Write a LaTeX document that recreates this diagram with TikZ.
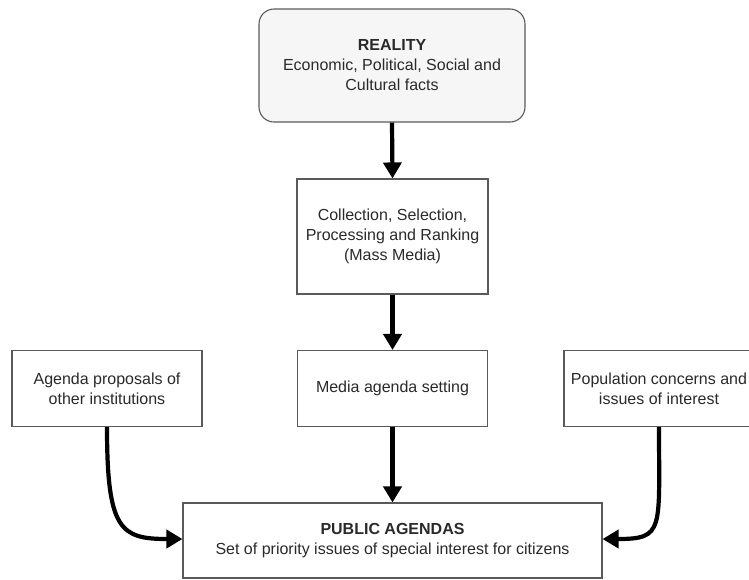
\documentclass[tikz,border=0pt]{standalone}
\usepackage{fontspec}
\setmainfont{Liberation Sans}
\usetikzlibrary{arrows.meta}
\definecolor{boxline}{HTML}{5A5A5A}
\definecolor{textcol}{HTML}{2A2A2A}
\definecolor{softfill}{HTML}{F6F6F6}
\begin{document}
\begin{tikzpicture}[x=1pt,y=-1pt,
  box/.style={draw=boxline, line width=1.1pt, fill=white, text=textcol,
    align=center, font=\fontsize{16}{20}\selectfont, inner sep=0pt},
  flow/.style={line width=4.2pt, -{Triangle[length=16pt,width=18pt]}}]
\useasboundingbox (0,0) rectangle (749,579);
\clip (0,0) rectangle (749,579);

% source of events
\node[box, fill=softfill, rounded corners=15pt, minimum width=266pt, minimum height=113pt]
  (reality) at (392,65.5) {\textbf{REALITY}\\Economic, Political, Social and\\Cultural facts};

% media processing chain
\node[box, minimum width=191pt, minimum height=115pt]
  (collect) at (392.5,236.5) {Collection, Selection,\\Processing and Ranking\\(Mass Media)};
\node[box, minimum width=190pt, minimum height=76pt]
  (media) at (392.5,388.5) {Media agenda setting};

% side inputs
\node[box, minimum width=190pt, minimum height=76pt]
  (inst) at (107,388.5) {Agenda proposals of\\other institutions};
\node[box, minimum width=190pt, minimum height=76pt]
  (popul) at (659,388.5) {Population concerns and\\issues of interest};

% result
\node[box, minimum width=419pt, minimum height=75pt]
  (public) at (392.5,540.5) {\textbf{PUBLIC AGENDAS}\\Set of priority issues of special interest for citizens};

% connectors
\draw[flow] (reality.south) -- (collect.north);
\draw[flow] (collect.south) -- (media.north);
\draw[flow] (media.south) -- (public.north);
\draw[flow] (inst.south) .. controls +(0,103) and +(-62,0) .. ([yshift=1.5pt]public.west);
\draw[flow] (popul.south) .. controls +(0,103) and +(62,0) .. ([yshift=1.5pt]public.east);
\end{tikzpicture}
\end{document}
